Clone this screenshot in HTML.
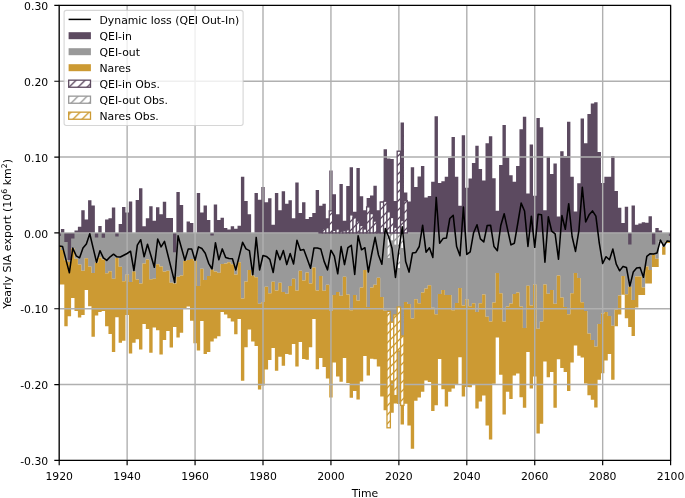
<!DOCTYPE html>
<html><head><meta charset="utf-8"><title>Yearly SIA export</title>
<style>html,body{margin:0;padding:0;background:#fff}svg{display:block}text{font-family:"DejaVu Sans","Liberation Sans",sans-serif;font-size:10.85px;fill:#000}</style></head><body>
<svg width="685" height="498" viewBox="0 0 685 498">
<defs>
<clipPath id="ax"><rect x="59.2" y="5.4" width="611.41" height="455"/></clipPath>
<pattern id="hp" patternUnits="userSpaceOnUse" width="9" height="9" x="5" y="0"><rect width="9" height="9" fill="#fff"/><path d="M-1 10L10 -1M-1 1L1 -1M8 10L10 8" stroke="#5c4a60" stroke-width="1.3" fill="none"/></pattern>
<pattern id="hg" patternUnits="userSpaceOnUse" width="9" height="9" x="5" y="0"><rect width="9" height="9" fill="#fff"/><path d="M-1 10L10 -1M-1 1L1 -1M8 10L10 8" stroke="#999999" stroke-width="1.3" fill="none"/></pattern>
<pattern id="hn" patternUnits="userSpaceOnUse" width="9" height="9" x="1" y="0"><rect width="9" height="9" fill="#fff"/><path d="M-1 10L10 -1M-1 1L1 -1M8 10L10 8" stroke="#cc9a33" stroke-width="1.3" fill="none"/></pattern>
<pattern id="hpl" patternUnits="userSpaceOnUse" width="9" height="9" x="3.3" y="0"><rect width="9" height="9" fill="#fff"/><path d="M-1 10L10 -1M-1 1L1 -1M8 10L10 8" stroke="#5c4a60" stroke-width="1.3" fill="none"/></pattern>
<pattern id="hgl" patternUnits="userSpaceOnUse" width="9" height="9" x="3.3" y="0"><rect width="9" height="9" fill="#fff"/><path d="M-1 10L10 -1M-1 1L1 -1M8 10L10 8" stroke="#999999" stroke-width="1.3" fill="none"/></pattern>
<pattern id="hnl" patternUnits="userSpaceOnUse" width="9" height="9" x="3.3" y="0"><rect width="9" height="9" fill="#fff"/><path d="M-1 10L10 -1M-1 1L1 -1M8 10L10 8" stroke="#cc9a33" stroke-width="1.3" fill="none"/></pattern>
</defs>
<rect width="685" height="498" fill="#fff"/>
<g clip-path="url(#ax)">
<path d="M57.5 232.9H60.9V246.7H57.5ZM60.9 232.9H64.3V249.9H60.9ZM64.3 232.9H67.69V260.3H64.3ZM67.69 232.9H71.09V262H67.69ZM71.09 232.9H74.49V248.3H71.09ZM74.49 232.9H77.88V258.7H74.49ZM77.88 232.9H81.28V264.4H77.88ZM81.28 232.9H84.68V270.8H81.28ZM84.68 232.9H88.07V258.2H84.68ZM88.07 232.9H91.47V266.4H88.07ZM91.47 232.9H94.87V272.9H91.47ZM94.87 232.9H98.26V262.7H94.87ZM98.26 232.9H101.66V257.6H98.26ZM101.66 232.9H105.06V259.5H101.66ZM105.06 232.9H108.45V273.2H105.06ZM108.45 232.9H111.85V271.3H108.45ZM111.85 232.9H115.25V278.8H111.85ZM115.25 232.9H118.64V257.9H115.25ZM118.64 232.9H122.04V266.8H118.64ZM122.04 232.9H125.44V281.2H122.04ZM125.44 232.9H128.83V274.5H125.44ZM128.83 232.9H132.23V282H128.83ZM132.23 232.9H135.63V271.6H132.23ZM135.63 232.9H139.02V279.6H135.63ZM139.02 232.9H142.42V283.6H139.02ZM142.42 232.9H145.82V263.5H142.42ZM145.82 232.9H149.21V259.5H145.82ZM149.21 232.9H152.61V279.3H149.21ZM152.61 232.9H156.01V278.8H152.61ZM156.01 232.9H159.4V264.3H156.01ZM159.4 232.9H162.8V266.4H159.4ZM162.8 232.9H166.2V271.6H162.8ZM166.2 232.9H169.59V270.8H166.2ZM169.59 232.9H172.99V282.8H169.59ZM172.99 232.9H176.39V283.6H172.99ZM176.39 232.9H179.78V276.7H176.39ZM179.78 232.9H183.18V275.6H179.78ZM183.18 232.9H186.58V261.1H183.18ZM186.58 232.9H189.97V260H186.58ZM189.97 232.9H193.37V259H189.97ZM193.37 232.9H196.77V260.7H193.37ZM196.77 232.9H200.16V286H196.77ZM200.16 232.9H203.56V268.7H200.16ZM203.56 232.9H206.96V279.9H203.56ZM206.96 232.9H210.35V276.1H206.96ZM210.35 232.9H213.75V269.6H210.35ZM213.75 232.9H217.15V271.6H213.75ZM217.15 232.9H220.54V272.7H217.15ZM220.54 232.9H223.94V264H220.54ZM223.94 232.9H227.34V263.5H223.94ZM227.34 232.9H230.73V262.3H227.34ZM230.73 232.9H234.13V264.3H230.73ZM234.13 232.9H237.53V274.5H234.13ZM237.53 232.9H240.92V262.3H237.53ZM240.92 232.9H244.32V298.5H240.92ZM244.32 232.9H247.72V281.5H244.32ZM247.72 232.9H251.11V270H247.72ZM251.11 232.9H254.51V275.6H251.11ZM254.51 232.9H257.91V277.2H254.51ZM257.91 232.9H261.3V303.7H257.91ZM261.3 232.9H264.7V302.1H261.3ZM264.7 232.9H268.1V286.8H264.7ZM268.1 232.9H271.49V293.2H268.1ZM271.49 232.9H274.89V281.7H271.49ZM274.89 232.9H278.29V290.5H274.89ZM278.29 232.9H281.68V282.8H278.29ZM281.68 232.9H285.08V292.1H281.68ZM285.08 232.9H288.48V293.7H285.08ZM288.48 232.9H291.87V286H288.48ZM291.87 232.9H295.27V278.8H291.87ZM295.27 232.9H298.67V290.5H295.27ZM298.67 232.9H302.06V270.8H298.67ZM302.06 232.9H305.46V280.4H302.06ZM305.46 232.9H308.86V272.4H305.46ZM308.86 232.9H312.25V283.6H308.86ZM312.25 232.9H315.65V267.6H312.25ZM315.65 232.9H319.05V290.5H315.65ZM319.05 232.9H322.44V275.9H319.05ZM322.44 232.9H325.84V290.8H322.44ZM325.84 232.9H329.24V284.7H325.84ZM329.24 232.9H332.63V311H329.24ZM332.63 232.9H336.03V294.9H332.63ZM336.03 232.9H339.43V292.1H336.03ZM339.43 232.9H342.82V295.7H339.43ZM342.82 232.9H346.22V276.7H342.82ZM346.22 232.9H349.62V294.5H346.22ZM349.62 232.9H353.01V310.3H349.62ZM353.01 232.9H356.41V294.9H353.01ZM356.41 232.9H359.81V300.5H356.41ZM359.81 232.9H363.2V287.6H359.81ZM363.2 232.9H366.6V270H363.2ZM366.6 232.9H370V307H366.6ZM370 232.9H373.39V287.6H370ZM373.39 232.9H376.79V284.7H373.39ZM376.79 232.9H380.19V277.7H376.79ZM380.19 232.9H383.58V296.9H380.19ZM383.58 232.9H386.98V310.8H383.58ZM386.98 232.9H390.38V311.4H386.98ZM390.38 232.9H393.77V322.2H390.38ZM393.77 232.9H397.17V314.9H393.77ZM397.17 232.9H400.57V307H397.17ZM400.57 232.9H403.97V336H400.57ZM403.97 232.9H407.36V302H403.97ZM407.36 232.9H410.76V304H407.36ZM410.76 232.9H414.16V318.5H410.76ZM414.16 232.9H417.55V299.2H414.16ZM417.55 232.9H420.95V303.2H417.55ZM420.95 232.9H424.35V292.4H420.95ZM424.35 232.9H427.74V288.4H424.35ZM427.74 232.9H431.14V285.2H427.74ZM431.14 232.9H434.54V307.8H431.14ZM434.54 232.9H437.93V314.3H434.54ZM437.93 232.9H441.33V294H437.93ZM441.33 232.9H444.73V290H441.33ZM444.73 232.9H448.12V294.9H444.73ZM448.12 232.9H451.52V294.9H448.12ZM451.52 232.9H454.92V310.3H451.52ZM454.92 232.9H458.31V302.9H454.92ZM458.31 232.9H461.71V288.1H458.31ZM461.71 232.9H465.11V305.4H461.71ZM465.11 232.9H468.5V299.2H465.11ZM468.5 232.9H471.9V306.2H468.5ZM471.9 232.9H475.3V303.2H471.9ZM475.3 232.9H478.69V311.9H475.3ZM478.69 232.9H482.09V303.2H478.69ZM482.09 232.9H485.49V294.4H482.09ZM485.49 232.9H488.88V316.7H485.49ZM488.88 232.9H492.28V321.5H488.88ZM492.28 232.9H495.68V302.4H492.28ZM495.68 232.9H499.07V272.9H495.68ZM499.07 232.9H502.47V293.2H499.07ZM502.47 232.9H505.87V321.5H502.47ZM505.87 232.9H509.26V306.6H505.87ZM509.26 232.9H512.66V303.4H509.26ZM512.66 232.9H516.06V294H512.66ZM516.06 232.9H519.45V292.4H516.06ZM519.45 232.9H522.85V306.6H519.45ZM522.85 232.9H526.25V327.9H522.85ZM526.25 232.9H529.64V285.7H526.25ZM529.64 232.9H533.04V305.4H529.64ZM533.04 232.9H536.44V284.4H533.04ZM536.44 232.9H539.83V328.7H536.44ZM539.83 232.9H543.23V321.5H539.83ZM543.23 232.9H546.63V284.4H543.23ZM546.63 232.9H550.02V293.7H546.63ZM550.02 232.9H553.42V290H550.02ZM553.42 232.9H556.82V303.8H553.42ZM556.82 232.9H560.21V275.6H556.82ZM560.21 232.9H563.61V297.6H560.21ZM563.61 232.9H567.01V307H563.61ZM567.01 232.9H570.4V314.3H567.01ZM570.4 232.9H573.8V293.2H570.4ZM573.8 232.9H577.2V272.9H573.8ZM577.2 232.9H580.59V278H577.2ZM580.59 232.9H583.99V302.2H580.59ZM583.99 232.9H587.39V311.1H583.99ZM587.39 232.9H590.78V333.5H587.39ZM590.78 232.9H594.18V340H590.78ZM594.18 232.9H597.58V346.4H594.18ZM597.58 232.9H600.97V323.9H597.58ZM600.97 232.9H604.37V313.5H600.97ZM604.37 232.9H607.77V311.9H604.37ZM607.77 232.9H611.16V315.9H607.77ZM611.16 232.9H614.56V325.8H611.16ZM614.56 232.9H617.96V309.5H614.56ZM617.96 232.9H621.35V295.6H617.96ZM621.35 232.9H624.75V276.1H621.35ZM624.75 232.9H628.15V294.2H624.75ZM628.15 232.9H631.54V286.7H628.15ZM631.54 232.9H634.94V300H631.54ZM634.94 232.9H638.34V276.6H634.94ZM638.34 232.9H641.73V276.6H638.34ZM641.73 232.9H645.13V287.6H641.73ZM645.13 232.9H648.53V266.4H645.13ZM648.53 232.9H651.92V270H648.53ZM651.92 232.9H655.32V254.8H651.92ZM655.32 232.9H658.72V258.7H655.32ZM658.72 232.9H662.11V241H658.72ZM662.11 232.9H665.51V246.7H662.11ZM665.51 232.9H668.91V241H665.51ZM668.91 232.9H672.3V241H668.91Z" fill="#999999"/>
<path d="M57.5 246.7H60.9V284.4H57.5ZM60.9 249.9H64.3V284.4H60.9ZM64.3 260.3H67.69V326.3H64.3ZM67.69 262H71.09V316.2H67.69ZM71.09 248.3H74.49V297.9H71.09ZM74.49 258.7H77.88V311.1H74.49ZM77.88 264.4H81.28V317.5H77.88ZM81.28 270.8H84.68V315.1H81.28ZM84.68 258.2H88.07V290H84.68ZM88.07 266.4H91.47V306.2H88.07ZM91.47 272.9H94.87V336.8H91.47ZM94.87 262.7H98.26V315.6H94.87ZM98.26 257.6H101.66V311.9H98.26ZM101.66 259.5H105.06V311.1H101.66ZM105.06 273.2H108.45V326.3H105.06ZM108.45 271.3H111.85V333.9H108.45ZM111.85 278.8H115.25V352H111.85ZM115.25 257.9H118.64V317.2H115.25ZM118.64 266.8H122.04V342.7H118.64ZM122.04 281.2H125.44V340.8H122.04ZM125.44 274.5H128.83V315.1H125.44ZM128.83 282H132.23V353.6H128.83ZM132.23 271.6H135.63V342.7H132.23ZM135.63 279.6H139.02V339.2H135.63ZM139.02 283.6H142.42V349.6H139.02ZM142.42 263.5H145.82V323.9H142.42ZM145.82 259.5H149.21V329H145.82ZM149.21 279.3H152.61V352.8H149.21ZM152.61 278.8H156.01V327.4H152.61ZM156.01 264.3H159.4V330.3H156.01ZM159.4 266.4H162.8V354.4H159.4ZM162.8 271.6H166.2V340H162.8ZM166.2 270.8H169.59V331.1H166.2ZM169.59 282.8H172.99V347.5H169.59ZM172.99 283.6H176.39V327.1H172.99ZM176.39 276.7H179.78V337.6H176.39ZM179.78 275.6H183.18V332.7H179.78ZM183.18 261.1H186.58V308.7H183.18ZM186.58 260H189.97V306.6H186.58ZM189.97 259H193.37V320.7H189.97ZM193.37 260.7H196.77V343.2H193.37ZM196.77 286H200.16V350.4H196.77ZM200.16 268.7H203.56V321H200.16ZM203.56 279.9H206.96V354.1H203.56ZM206.96 276.1H210.35V352H206.96ZM210.35 269.6H213.75V341.6H210.35ZM213.75 271.6H217.15V338.4H213.75ZM217.15 272.7H220.54V336.3H217.15ZM220.54 264H223.94V311.9H220.54ZM223.94 263.5H227.34V314.6H223.94ZM227.34 262.3H230.73V318.3H227.34ZM230.73 264.3H234.13V321.5H230.73ZM234.13 274.5H237.53V334.3H234.13ZM237.53 262.3H240.92V319.1H237.53ZM240.92 298.5H244.32V380.7H240.92ZM244.32 281.5H247.72V347.2H244.32ZM247.72 270H251.11V329.5H247.72ZM251.11 275.6H254.51V341.6H251.11ZM254.51 277.2H257.91V346.1H254.51ZM257.91 303.7H261.3V389.5H257.91ZM261.3 302.1H264.7V385.4H261.3ZM264.7 286.8H268.1V369.6H264.7ZM268.1 293.2H271.49V360H268.1ZM271.49 281.7H274.89V348H271.49ZM274.89 290.5H278.29V370.8H274.89ZM278.29 282.8H281.68V356.8H278.29ZM281.68 292.1H285.08V365.7H281.68ZM285.08 293.7H288.48V354.1H285.08ZM288.48 286H291.87V354.7H288.48ZM291.87 278.8H295.27V344H291.87ZM295.27 290.5H298.67V366.5H295.27ZM298.67 270.8H302.06V342H298.67ZM302.06 280.4H305.46V358.9H302.06ZM305.46 272.4H308.86V359.7H305.46ZM308.86 283.6H312.25V347.2H308.86ZM312.25 267.6H315.65V319.1H312.25ZM315.65 290.5H319.05V369.2H315.65ZM319.05 275.9H322.44V358H319.05ZM322.44 290.8H325.84V367H322.44ZM325.84 284.7H329.24V378.5H325.84ZM329.24 311H332.63V397.5H329.24ZM332.63 294.9H336.03V362.4H332.63ZM336.03 292.1H339.43V376.6H336.03ZM339.43 295.7H342.82V381.7H339.43ZM342.82 276.7H346.22V358.1H342.82ZM346.22 294.5H349.62V383H346.22ZM349.62 310.3H353.01V397.8H349.62ZM353.01 294.9H356.41V391H353.01ZM356.41 300.5H359.81V399.4H356.41ZM359.81 287.6H363.2V381.5H359.81ZM363.2 270H366.6V356H363.2ZM366.6 307H370V375.6H366.6ZM370 287.6H373.39V358.8H370ZM373.39 284.7H376.79V359.2H373.39ZM376.79 277.7H380.19V366.5H376.79ZM380.19 296.9H383.58V396.4H380.19ZM383.58 310.8H386.98V410.3H383.58ZM386.98 311.4H390.38V427.8H386.98ZM390.38 322.2H393.77V412.7H390.38ZM393.77 314.9H397.17V403.5H393.77ZM397.17 307H400.57V404H397.17ZM400.57 336H403.97V424.6H400.57ZM403.97 302H407.36V403.8H403.97ZM407.36 304H410.76V425.4H407.36ZM410.76 318.5H414.16V448.7H410.76ZM414.16 299.2H417.55V400.7H414.16ZM417.55 303.2H420.95V397.5H417.55ZM420.95 292.4H424.35V391.7H420.95ZM424.35 288.4H427.74V380.4H424.35ZM427.74 285.2H431.14V382H427.74ZM431.14 307.8H434.54V411H431.14ZM434.54 314.3H437.93V405.3H434.54ZM437.93 294H441.33V358.9H437.93ZM441.33 290H444.73V389.3H441.33ZM444.73 294.9H448.12V406.6H444.73ZM448.12 294.9H451.52V391.7H448.12ZM451.52 310.3H454.92V388.5H451.52ZM454.92 302.9H458.31V384.5H454.92ZM458.31 288.1H461.71V357.3H458.31ZM461.71 305.4H465.11V396.5H461.71ZM465.11 299.2H468.5V387H465.11ZM468.5 306.2H471.9V387.3H468.5ZM471.9 303.2H475.3V384.8H471.9ZM475.3 311.9H478.69V408.5H475.3ZM478.69 303.2H482.09V401.6H478.69ZM482.09 294.4H485.49V395.4H482.09ZM485.49 316.7H488.88V425.4H485.49ZM488.88 321.5H492.28V439.4H488.88ZM492.28 302.4H495.68V383.7H492.28ZM495.68 272.9H499.07V337.6H495.68ZM499.07 293.2H502.47V374.8H499.07ZM502.47 321.5H505.87V414.6H502.47ZM505.87 306.6H509.26V391.7H505.87ZM509.26 303.4H512.66V398.9H509.26ZM512.66 294H516.06V375.6H512.66ZM516.06 292.4H519.45V373.5H516.06ZM519.45 306.6H522.85V397.3H519.45ZM522.85 327.9H526.25V407.7H522.85ZM526.25 285.7H529.64V352H526.25ZM529.64 305.4H533.04V388.5H529.64ZM533.04 284.4H536.44V376.4H533.04ZM536.44 328.7H539.83V433.4H536.44ZM539.83 321.5H543.23V423.8H539.83ZM543.23 284.4H546.63V361.6H543.23ZM546.63 293.7H550.02V377.2H546.63ZM550.02 290H553.42V371.9H550.02ZM553.42 303.8H556.82V407.7H553.42ZM556.82 275.6H560.21V359.2H556.82ZM560.21 297.6H563.61V368.1H560.21ZM563.61 307H567.01V372.1H563.61ZM567.01 314.3H570.4V391H567.01ZM570.4 293.2H573.8V362.4H570.4ZM573.8 272.9H577.2V345.6H573.8ZM577.2 278H580.59V355.7H577.2ZM580.59 302.2H583.99V357.6H580.59ZM583.99 311.1H587.39V383.4H583.99ZM587.39 333.5H590.78V395.3H587.39ZM590.78 340H594.18V399.8H590.78ZM594.18 346.4H597.58V407.5H594.18ZM597.58 323.9H600.97V379.7H597.58ZM600.97 313.5H604.37V373.3H600.97ZM604.37 311.9H607.77V360.6H604.37ZM607.77 315.9H611.16V354H607.77ZM611.16 325.8H614.56V379.7H611.16ZM614.56 309.5H617.96V326.3H614.56ZM617.96 295.6H621.35V314.6H617.96ZM621.35 276.1H624.75V294.8H621.35ZM624.75 294.2H628.15V318.3H624.75ZM628.15 286.7H631.54V327.1H628.15ZM631.54 300H634.94V336H631.54ZM634.94 276.6H638.34V307.5H634.94ZM638.34 276.6H641.73V295H638.34ZM641.73 287.6H645.13V295H641.73ZM645.13 266.4H648.53V283.6H645.13ZM648.53 270H651.92V283.6H648.53ZM651.92 254.8H655.32V266.9H651.92ZM655.32 258.7H658.72V266.9H655.32ZM662.11 246.7H665.51V254.7H662.11ZM665.51 241H668.91V243H665.51ZM668.91 241H672.3V243H668.91Z" fill="#cc9a33"/>
<path d="M57.5 232.9H60.9V235.9H57.5ZM60.9 229H64.3V232.9H60.9ZM64.3 232.9H67.69V241.9H64.3ZM67.69 232.9H71.09V259.9H67.69ZM71.09 232.9H74.49V238.5H71.09ZM74.49 230.6H77.88V232.9H74.49ZM77.88 226.8H81.28V232.9H77.88ZM81.28 210.2H84.68V232.9H81.28ZM84.68 219.4H88.07V232.9H84.68ZM88.07 200.3H91.47V232.9H88.07ZM91.47 205.4H94.87V232.9H91.47ZM94.87 232.9H98.26V237.5H94.87ZM98.26 226H101.66V232.9H98.26ZM101.66 232.9H105.06V237.8H101.66ZM105.06 219.4H108.45V232.9H105.06ZM108.45 218.3H111.85V232.9H108.45ZM111.85 207.5H115.25V232.9H111.85ZM115.25 232.9H118.64V236.6H115.25ZM118.64 223.9H122.04V232.9H118.64ZM122.04 207H125.44V232.9H122.04ZM125.44 212.6H128.83V232.9H125.44ZM128.83 201.4H132.23V232.9H128.83ZM135.63 200.1H139.02V232.9H135.63ZM139.02 188.2H142.42V232.9H139.02ZM142.42 226.3H145.82V232.9H142.42ZM145.82 218.2H149.21V232.9H145.82ZM149.21 206.2H152.61V232.9H149.21ZM152.61 220.7H156.01V232.9H152.61ZM156.01 207.3H159.4V232.9H156.01ZM159.4 214.2H162.8V232.9H159.4ZM162.8 201.7H166.2V232.9H162.8ZM166.2 217.9H169.59V232.9H166.2ZM169.59 217.9H172.99V232.9H169.59ZM172.99 232.9H176.39V252.3H172.99ZM176.39 192.1H179.78V232.9H176.39ZM179.78 205.1H183.18V232.9H179.78ZM186.58 221.5H189.97V232.9H186.58ZM189.97 223.1H193.37V232.9H189.97ZM196.77 193H200.16V232.9H196.77ZM200.16 212.6H203.56V232.9H200.16ZM203.56 205.4H206.96V232.9H203.56ZM206.96 219.9H210.35V232.9H206.96ZM210.35 232.9H213.75V235.4H210.35ZM213.75 204.6H217.15V232.9H213.75ZM217.15 219.9H220.54V232.9H217.15ZM220.54 217.8H223.94V232.9H220.54ZM223.94 227.9H227.34V232.9H223.94ZM227.34 229.5H230.73V232.9H227.34ZM230.73 226.3H234.13V232.9H230.73ZM234.13 228.7H237.53V232.9H234.13ZM237.53 225.8H240.92V232.9H237.53ZM240.92 176.8H244.32V232.9H240.92ZM244.32 200.9H247.72V232.9H244.32ZM247.72 214.2H251.11V232.9H247.72ZM254.51 192.9H257.91V232.9H254.51ZM257.91 199.8H261.3V232.9H257.91ZM261.3 186.9H264.7V232.9H261.3ZM264.7 202.2H268.1V232.9H264.7ZM268.1 198.2H271.49V232.9H268.1ZM271.49 224.7H274.89V232.9H271.49ZM274.89 192.9H278.29V232.9H274.89ZM278.29 210.2H281.68V232.9H278.29ZM281.68 191.3H285.08V232.9H281.68ZM285.08 203.8H288.48V232.9H285.08ZM288.48 200.3H291.87V232.9H288.48ZM291.87 218.2H295.27V232.9H291.87ZM295.27 182.4H298.67V232.9H295.27ZM298.67 213.1H302.06V232.9H298.67ZM302.06 202.2H305.46V232.9H302.06ZM305.46 219H308.86V232.9H305.46ZM308.86 217H312.25V232.9H308.86ZM312.25 213.1H315.65V232.9H312.25ZM315.65 190.1H319.05V232.9H315.65ZM319.05 205.7H322.44V232.9H319.05ZM322.44 203.8H325.84V232.9H322.44ZM325.84 218.2H329.24V232.9H325.84ZM329.24 170.6H332.63V232.9H329.24ZM332.63 194.2H336.03V232.9H332.63ZM336.03 214.2H339.43V232.9H336.03ZM339.43 184H342.82V232.9H339.43ZM342.82 220.7H346.22V232.9H342.82ZM346.22 186.1H349.62V232.9H346.22ZM349.62 167.2H353.01V232.9H349.62ZM353.01 211.8H356.41V232.9H353.01ZM356.41 168H359.81V232.9H356.41ZM359.81 196.2H363.2V232.9H359.81ZM363.2 210.2H366.6V232.9H363.2ZM366.6 197.9H370V232.9H366.6ZM370 195.4H373.39V232.9H370ZM373.39 185.7H376.79V232.9H373.39ZM376.79 210.2H380.19V232.9H376.79ZM380.19 201.4H383.58V232.9H380.19ZM383.58 149.2H386.98V232.9H383.58ZM386.98 158.5H390.38V232.9H386.98ZM390.38 158.9H393.77V232.9H390.38ZM393.77 201.1H397.17V232.9H393.77ZM397.17 151.2H400.57V232.9H397.17ZM400.57 122.4H403.97V232.9H400.57ZM403.97 192.6H407.36V232.9H403.97ZM407.36 201.4H410.76V232.9H407.36ZM410.76 167.2H414.16V232.9H410.76ZM414.16 186.9H417.55V232.9H414.16ZM417.55 176.5H420.95V232.9H417.55ZM420.95 166.1H424.35V232.9H420.95ZM424.35 197.4H427.74V232.9H424.35ZM427.74 196.1H431.14V232.9H427.74ZM431.14 181.8H434.54V232.9H431.14ZM434.54 116.3H437.93V232.9H434.54ZM437.93 182.9H441.33V232.9H437.93ZM441.33 181.3H444.73V232.9H441.33ZM444.73 176.8H448.12V232.9H444.73ZM448.12 158H451.52V232.9H448.12ZM451.52 137.1H454.92V232.9H451.52ZM454.92 176.8H458.31V232.9H454.92ZM458.31 205.7H461.71V232.9H458.31ZM461.71 135.2H465.11V232.9H461.71ZM465.11 187.7H468.5V232.9H465.11ZM468.5 178.5H471.9V232.9H468.5ZM471.9 163H475.3V232.9H471.9ZM475.3 145.8H478.69V232.9H475.3ZM478.69 169H482.09V232.9H478.69ZM482.09 180.6H485.49V232.9H482.09ZM485.49 143.3H488.88V232.9H485.49ZM488.88 136.3H492.28V232.9H488.88ZM492.28 178.2H495.68V232.9H492.28ZM495.68 210.7H499.07V232.9H495.68ZM499.07 165H502.47V232.9H499.07ZM502.47 125.1H505.87V232.9H502.47ZM505.87 157.5H509.26V232.9H505.87ZM509.26 175.2H512.66V232.9H509.26ZM512.66 181.8H516.06V232.9H512.66ZM516.06 166.1H519.45V232.9H516.06ZM519.45 129.3H522.85V232.9H519.45ZM522.85 116.8H526.25V232.9H522.85ZM526.25 193.4H529.64V232.9H526.25ZM529.64 144.4H533.04V232.9H529.64ZM533.04 195.8H536.44V232.9H533.04ZM536.44 118H539.83V232.9H536.44ZM539.83 127.2H543.23V232.9H539.83ZM543.23 210.2H546.63V232.9H543.23ZM546.63 156.8H550.02V232.9H546.63ZM550.02 174H553.42V232.9H550.02ZM553.42 163.6H556.82V232.9H553.42ZM556.82 216.6H560.21V232.9H556.82ZM560.21 151.3H563.61V232.9H560.21ZM563.61 156H567.01V232.9H563.61ZM567.01 121.8H570.4V232.9H567.01ZM570.4 176.8H573.8V232.9H570.4ZM573.8 211.5H577.2V232.9H573.8ZM577.2 183.2H580.59V232.9H577.2ZM580.59 118.4H583.99V232.9H580.59ZM583.99 143.2H587.39V232.9H583.99ZM587.39 114H590.78V232.9H587.39ZM590.78 103.6H594.18V232.9H590.78ZM594.18 102.3H597.58V232.9H594.18ZM597.58 152H600.97V232.9H597.58ZM600.97 182.9H604.37V232.9H600.97ZM604.37 176.8H607.77V232.9H604.37ZM607.77 176.8H611.16V232.9H607.77ZM611.16 156.1H614.56V232.9H611.16ZM614.56 191H617.96V232.9H614.56ZM617.96 207.8H621.35V232.9H617.96ZM621.35 223.1H624.75V232.9H621.35ZM624.75 206.7H628.15V232.9H624.75ZM628.15 232.9H631.54V244.4H628.15ZM631.54 205.4H634.94V232.9H631.54ZM634.94 224.7H638.34V232.9H634.94ZM638.34 223.4H641.73V232.9H638.34ZM641.73 222.3H645.13V232.9H641.73ZM645.13 222.7H648.53V232.9H645.13ZM648.53 216.2H651.92V232.9H648.53ZM651.92 232.9H655.32V244.4H651.92ZM655.32 228H658.72V232.9H655.32ZM658.72 230.4H662.11V232.9H658.72ZM668.91 232.9H672.3V236H668.91Z" fill="#5c4a60"/>
</g>
<path d="M59.2 5.4V460.4M127.13 5.4V460.4M195.07 5.4V460.4M263 5.4V460.4M330.94 5.4V460.4M398.87 5.4V460.4M466.8 5.4V460.4M534.74 5.4V460.4M602.67 5.4V460.4M670.61 5.4V460.4M59.2 5.4H670.61M59.2 81.23H670.61M59.2 157.07H670.61M59.2 232.9H670.61M59.2 308.73H670.61M59.2 384.57H670.61M59.2 460.4H670.61" stroke="#b0b0b0" stroke-width="1.4" fill="none"/>
<g clip-path="url(#ax)">
<rect x="386.98" y="232.9" width="3.4" height="25.6" fill="url(#hg)" stroke="#999999" stroke-width="1.3"/>
<rect x="390.38" y="232.9" width="3.4" height="8.1" fill="url(#hg)" stroke="#999999" stroke-width="1.3"/>
<rect x="393.77" y="232.9" width="3.4" height="12.4" fill="url(#hg)" stroke="#999999" stroke-width="1.3"/>
<rect x="397.17" y="232.9" width="3.4" height="35.9" fill="url(#hg)" stroke="#999999" stroke-width="1.3"/>
<rect x="400.57" y="232.9" width="3.4" height="15.7" fill="url(#hg)" stroke="#999999" stroke-width="1.3"/>
<rect x="386.98" y="311.4" width="3.4" height="116.4" fill="url(#hn)" stroke="#cc9a33" stroke-width="1.3"/>
<rect x="390.38" y="322.2" width="3.4" height="58.8" fill="url(#hn)" stroke="#cc9a33" stroke-width="1.3"/>
<rect x="393.77" y="314.9" width="3.4" height="80.7" fill="url(#hn)" stroke="#cc9a33" stroke-width="1.3"/>
<rect x="397.17" y="307" width="3.4" height="44" fill="url(#hn)" stroke="#cc9a33" stroke-width="1.3"/>
<rect x="400.57" y="336" width="3.4" height="69.4" fill="url(#hn)" stroke="#cc9a33" stroke-width="1.3"/>
<rect x="319.05" y="232.3" width="3.4" height="0.6" fill="url(#hp)" stroke="#5c4a60" stroke-width="1.3"/>
<rect x="322.44" y="229" width="3.4" height="3.9" fill="url(#hp)" stroke="#5c4a60" stroke-width="1.3"/>
<rect x="325.84" y="227.7" width="3.4" height="5.2" fill="url(#hp)" stroke="#5c4a60" stroke-width="1.3"/>
<rect x="329.24" y="210.9" width="3.4" height="22" fill="url(#hp)" stroke="#5c4a60" stroke-width="1.3"/>
<rect x="332.63" y="230.3" width="3.4" height="2.6" fill="url(#hp)" stroke="#5c4a60" stroke-width="1.3"/>
<rect x="336.03" y="229" width="3.4" height="3.9" fill="url(#hp)" stroke="#5c4a60" stroke-width="1.3"/>
<rect x="339.43" y="231.2" width="3.4" height="1.7" fill="url(#hp)" stroke="#5c4a60" stroke-width="1.3"/>
<rect x="342.82" y="230.8" width="3.4" height="2.1" fill="url(#hp)" stroke="#5c4a60" stroke-width="1.3"/>
<rect x="346.22" y="229.9" width="3.4" height="3" fill="url(#hp)" stroke="#5c4a60" stroke-width="1.3"/>
<rect x="349.62" y="214.9" width="3.4" height="18" fill="url(#hp)" stroke="#5c4a60" stroke-width="1.3"/>
<rect x="353.01" y="217.8" width="3.4" height="15.1" fill="url(#hp)" stroke="#5c4a60" stroke-width="1.3"/>
<rect x="356.41" y="221.1" width="3.4" height="11.8" fill="url(#hp)" stroke="#5c4a60" stroke-width="1.3"/>
<rect x="359.81" y="225.5" width="3.4" height="7.4" fill="url(#hp)" stroke="#5c4a60" stroke-width="1.3"/>
<rect x="363.2" y="229" width="3.4" height="3.9" fill="url(#hp)" stroke="#5c4a60" stroke-width="1.3"/>
<rect x="366.6" y="206.9" width="3.4" height="26" fill="url(#hp)" stroke="#5c4a60" stroke-width="1.3"/>
<rect x="370" y="213.6" width="3.4" height="19.3" fill="url(#hp)" stroke="#5c4a60" stroke-width="1.3"/>
<rect x="373.39" y="221.1" width="3.4" height="11.8" fill="url(#hp)" stroke="#5c4a60" stroke-width="1.3"/>
<rect x="376.79" y="232.3" width="3.4" height="0.6" fill="url(#hp)" stroke="#5c4a60" stroke-width="1.3"/>
<rect x="380.19" y="202.1" width="3.4" height="30.8" fill="url(#hp)" stroke="#5c4a60" stroke-width="1.3"/>
<rect x="383.58" y="201.2" width="3.4" height="31.7" fill="url(#hp)" stroke="#5c4a60" stroke-width="1.3"/>
<rect x="386.98" y="211.8" width="3.4" height="21.1" fill="url(#hp)" stroke="#5c4a60" stroke-width="1.3"/>
<rect x="390.38" y="217.5" width="3.4" height="15.4" fill="url(#hp)" stroke="#5c4a60" stroke-width="1.3"/>
<rect x="393.77" y="227.2" width="3.4" height="5.7" fill="url(#hp)" stroke="#5c4a60" stroke-width="1.3"/>
<rect x="397.17" y="151.2" width="3.4" height="81.7" fill="url(#hp)" stroke="#5c4a60" stroke-width="1.3"/>
<rect x="400.57" y="220.6" width="3.4" height="12.3" fill="url(#hp)" stroke="#5c4a60" stroke-width="1.3"/>
<rect x="403.97" y="200.7" width="3.4" height="32.2" fill="url(#hp)" stroke="#5c4a60" stroke-width="1.3"/>
<polyline points="59.2,246.1 62.6,246.6 65.99,259.9 69.39,272.7 72.79,248.1 76.18,255.8 79.58,257.8 82.98,248.1 86.37,244 89.77,233.8 93.17,248.1 96.56,262.4 99.96,250.7 103.36,257.8 106.75,260.4 110.15,256.8 113.55,254.2 116.94,256.8 120.34,257 123.74,255.2 127.13,253.5 130.53,251.2 133.93,270.6 137.32,245.2 140.72,239.7 144.12,256.8 147.51,244.3 150.91,255.5 154.31,267.3 157.7,239 161.1,246.9 164.5,241.4 167.89,255 171.29,268.6 174.69,282.4 178.08,235.7 181.48,248 184.88,260.3 188.27,248.9 191.67,248.9 195.07,260.3 198.46,246.9 201.86,248.5 205.26,253.3 208.65,263.3 212.05,269 215.45,242.7 218.84,259.8 222.24,248.9 225.64,257.4 229.04,258.5 232.43,258.7 235.83,269.9 239.23,256.1 242.62,242.3 246.02,248.9 249.42,250.6 252.81,274.8 256.21,237.4 259.61,269.9 263,255.5 266.4,256.4 269.8,259.4 273.19,272.5 276.59,250.6 279.99,259.8 283.38,250.6 286.78,264.6 290.18,253.5 293.57,264 296.97,240.3 300.37,250.2 303.76,249.5 307.16,258.7 310.56,268.2 313.95,248 317.35,248 320.75,248.9 324.14,261.4 327.54,269.9 330.94,250.2 334.33,256.1 337.73,273.8 341.13,246.6 344.52,264.6 347.92,247.6 351.32,245.3 354.71,274.5 358.11,235.7 361.51,249.8 364.9,247.7 368.3,272 371.7,254 375.09,237.3 378.49,255 381.89,264.2 385.28,228.5 388.68,236.7 392.08,248.5 395.47,277.4 398.87,250 402.27,226.8 405.66,261.6 409.06,272.1 412.46,253.1 415.85,252.4 419.25,246.5 422.65,225.2 426.04,252.2 429.44,247.8 432.84,257.4 436.23,197.4 439.63,243.2 443.03,238.6 446.42,238.1 449.82,218.5 453.22,215.3 456.61,246.5 460.01,255.7 463.41,207.1 466.8,254.4 470.2,251.8 473.6,232.7 476.99,224.8 480.39,238.9 483.79,241.9 487.18,225.5 490.58,225.2 493.98,246.5 497.37,250.7 500.77,225.5 504.17,213.7 507.56,229.4 510.96,244.9 514.36,243.2 517.75,223.5 521.15,203.1 524.55,211 527.94,246.5 531.34,216.2 534.74,247.3 538.13,214.2 541.53,214.8 544.93,262.2 548.32,216.8 551.72,231.2 555.12,233.9 558.51,259.3 561.91,215.5 565.31,229.3 568.71,203.7 572.1,236.5 575.5,251.4 578.9,230.6 582.29,187.2 585.69,222 589.09,214.8 592.48,210.9 595.88,216.1 599.28,243.1 602.67,263.5 606.07,256.7 609.47,259.8 612.86,249.1 616.26,264.2 619.66,270.8 623.05,266.4 626.45,267.5 629.85,286.1 633.24,272.1 636.64,268.1 640.04,267.5 643.43,277.3 646.83,256.3 650.23,253.7 653.62,254.1 657.02,253 660.42,240.1 663.81,246.2 667.21,240.9 670.61,241.5" fill="none" stroke="#000" stroke-width="1.55" stroke-linejoin="round" stroke-linecap="butt"/>
</g>
<rect x="59.2" y="5.4" width="611.41" height="455" fill="none" stroke="#000" stroke-width="1.2"/>
<path d="M59.2 460.4v4.9M127.13 460.4v4.9M195.07 460.4v4.9M263 460.4v4.9M330.94 460.4v4.9M398.87 460.4v4.9M466.8 460.4v4.9M534.74 460.4v4.9M602.67 460.4v4.9M670.61 460.4v4.9M59.2 5.4h-4.9M59.2 81.23h-4.9M59.2 157.07h-4.9M59.2 232.9h-4.9M59.2 308.73h-4.9M59.2 384.57h-4.9M59.2 460.4h-4.9" stroke="#000" stroke-width="1.2" fill="none"/>
<text x="59.2" y="479.6" text-anchor="middle">1920</text>
<text x="127.13" y="479.6" text-anchor="middle">1940</text>
<text x="195.07" y="479.6" text-anchor="middle">1960</text>
<text x="263" y="479.6" text-anchor="middle">1980</text>
<text x="330.94" y="479.6" text-anchor="middle">2000</text>
<text x="398.87" y="479.6" text-anchor="middle">2020</text>
<text x="466.8" y="479.6" text-anchor="middle">2040</text>
<text x="534.74" y="479.6" text-anchor="middle">2060</text>
<text x="602.67" y="479.6" text-anchor="middle">2080</text>
<text x="670.61" y="479.6" text-anchor="middle">2100</text>
<text x="48.2" y="10" text-anchor="end">0.30</text>
<text x="48.2" y="85.83" text-anchor="end">0.20</text>
<text x="48.2" y="161.67" text-anchor="end">0.10</text>
<text x="48.2" y="237.5" text-anchor="end">0.00</text>
<text x="48.2" y="313.33" text-anchor="end">-0.10</text>
<text x="48.2" y="389.17" text-anchor="end">-0.20</text>
<text x="48.2" y="465" text-anchor="end">-0.30</text>
<text x="365" y="496.5" text-anchor="middle">Time</text>
<text transform="translate(11.1,233.9) rotate(-90)" text-anchor="middle" style="font-size:11px">Yearly SIA export (10<tspan font-size="7.7" dy="-4">6</tspan><tspan dy="4"> km</tspan><tspan font-size="7.7" dy="-4">2</tspan><tspan dy="4">)</tspan></text>
<rect x="64.1" y="10.4" width="179" height="115.1" rx="2.2" ry="2.2" fill="#fff" fill-opacity="0.8" stroke="#ccc" stroke-opacity="0.8" stroke-width="1.1"/>
<path d="M68.6 19.4H90.9" stroke="#000" stroke-width="1.5"/>
<text x="99.5" y="23.5">Dynamic loss (QEI Out-In)</text>
<rect x="68.6" y="32.2" width="22.3" height="7" fill="#5c4a60"/>
<text x="99.5" y="39.5">QEI-in</text>
<rect x="68.6" y="48.2" width="22.3" height="7" fill="#999999"/>
<text x="99.5" y="55.5">QEI-out</text>
<rect x="68.6" y="64.2" width="22.3" height="7" fill="#cc9a33"/>
<text x="99.5" y="71.5">Nares</text>
<rect x="68.7" y="80.15" width="21.8" height="7.1" fill="url(#hpl)" stroke="#5c4a60" stroke-width="1.3"/>
<text x="99.5" y="87.5">QEI-in Obs.</text>
<rect x="68.7" y="96.15" width="21.8" height="7.1" fill="url(#hgl)" stroke="#999999" stroke-width="1.3"/>
<text x="99.5" y="103.5">QEI-out Obs.</text>
<rect x="68.7" y="112.15" width="21.8" height="7.1" fill="url(#hnl)" stroke="#cc9a33" stroke-width="1.3"/>
<text x="99.5" y="119.5">Nares Obs.</text>
</svg></body></html>
